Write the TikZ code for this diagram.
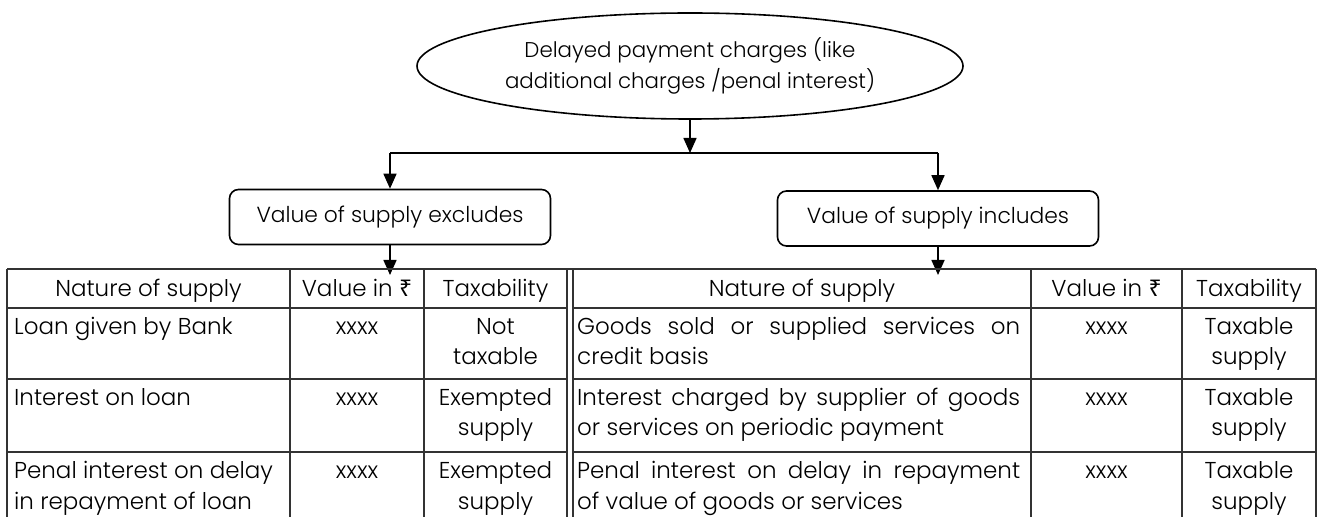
\documentclass[tikz,border=0pt]{standalone}
\usepackage{fontspec}
\setmainfont{Poppins}[UprightFont={* Light}]
\newfontfamily\rupeefont{Noto Sans}
\usetikzlibrary{arrows.meta,shapes.geometric}
\newlength\mywd
\newcommand\rs{{\rupeefont ₹}}
\begin{document}
\settowidth\mywd{\fontsize{10pt}{12pt}\selectfont Nature of supply}%
\pgfmathsetmacro\tsz{10*186.5/\mywd}%
\settowidth\mywd{\fontsize{10pt}{12pt}\selectfont additional charges /penal interest)}%
\pgfmathsetmacro\esz{10*370/\mywd}%
\settowidth\mywd{\fontsize{10pt}{12pt}\selectfont Value of supply excludes}%
\pgfmathsetmacro\bsz{10*267/\mywd}%
\def\tfont{\fontsize{\tsz pt}{30pt}\selectfont}%
\def\efont{\fontsize{\esz pt}{31pt}\selectfont}%
\def\bfont{\fontsize{\bsz pt}{30pt}\selectfont}%
\begin{tikzpicture}[x=1pt,y=1pt,
  conn/.style={line width=1.6pt,-{Triangle[width=13pt,length=15pt]}},
  joinline/.style={line width=1.6pt},
  rbox/.style={draw,line width=1.6pt,rounded corners=9pt,minimum width=321pt,minimum height=55pt,inner sep=0pt,font=\bfont},
  tbl/.style={line width=1.8pt,draw=black!80},
  txt/.style={inner sep=0pt,anchor=base,font=\tfont},
  txtl/.style={inner sep=0pt,anchor=base west,font=\tfont}]
\useasboundingbox (0,0) rectangle (1318,517);
% ellipse
\node[draw,ellipse,line width=1.6pt,minimum width=546pt,minimum height=106pt,inner sep=0pt,align=center,font=\efont] (ell) at (690,451) {Delayed payment charges (like\\additional charges /penal interest)};
\coordinate (split) at (690,364);
\coordinate (jl) at (390,364);
\coordinate (jr) at (938,364);
\draw[conn] (ell.south) -- (split);
\draw[joinline] (jl) -- (jr);
% boxes
\node[rbox] (lbox) at (390,300) {Value of supply excludes};
\node[rbox] (rbox) at (938,298.5) {Value of supply includes};
\draw[conn] (jl) -- (lbox.north);
\draw[conn] (jr) -- (rbox.north);
\coordinate (tl) at (390,242);
\coordinate (tr) at (938,242);
\draw[conn] (lbox.south) -- (tl);
\draw[conn] (rbox.south) -- (tr);
% table lines
\draw[tbl] (7,248) -- (1316,248);
\draw[tbl] (7,209) -- (567,209) (573,209) -- (1316,209);
\draw[tbl] (7,138) -- (567,138) (573,138) -- (1316,138);
\draw[tbl] (7,65) -- (567,65) (573,65) -- (1316,65);
\foreach \xx in {7,290,424,567,573,1031,1182,1316}{\draw[tbl] (\xx,248) -- (\xx,0);}
% header
\node[txt] (h1) at (148.5,220) {Nature of supply};
\node[txt] (h2) at (357,220) {Value in \rs};
\node[txt] (h3) at (495.5,220) {Taxability};
\node[txt] (h4) at (802,220) {Nature of supply};
\node[txt] (h5) at (1106.5,220) {Value in \rs};
\node[txt] (h6) at (1249,220) {Taxability};
% row 1
\node[txtl] (a1) at (14,182) {Loan given by Bank};
\node[txt] (a2) at (357,182) {xxxx};
\node[txt] (a3) at (495.5,182) {Not};
\node[txt] (a3b) at (495.5,152) {taxable};
\node[txtl] (a4) at (577,182) {\makebox[443pt][s]{Goods sold or supplied services on}};
\node[txtl] (a4b) at (577,152) {credit basis};
\node[txt] (a5) at (1106.5,182) {xxxx};
\node[txt] (a6) at (1249,182) {Taxable};
\node[txt] (a6b) at (1249,152) {supply};
% row 2
\node[txtl] (b1) at (14,111) {Interest on loan};
\node[txt] (b2) at (357,111) {xxxx};
\node[txt] (b3) at (495.5,111) {Exempted};
\node[txt] (b3b) at (495.5,81) {supply};
\node[txtl] (b4) at (577,111) {\makebox[443pt][s]{Interest charged by supplier of goods}};
\node[txtl] (b4b) at (577,81) {or services on periodic payment};
\node[txt] (b5) at (1106.5,111) {xxxx};
\node[txt] (b6) at (1249,111) {Taxable};
\node[txt] (b6b) at (1249,81) {supply};
% row 3
\node[txtl] (c1) at (14,38) {Penal interest on delay};
\node[txtl] (c1b) at (14,8) {in repayment of loan};
\node[txt] (c2) at (357,38) {xxxx};
\node[txt] (c3) at (495.5,38) {Exempted};
\node[txt] (c3b) at (495.5,8) {supply};
\node[txtl] (c4) at (577,38) {\makebox[443pt][s]{Penal interest on delay in repayment}};
\node[txtl] (c4b) at (577,8) {of value of goods or services};
\node[txt] (c5) at (1106.5,38) {xxxx};
\node[txt] (c6) at (1249,38) {Taxable};
\node[txt] (c6b) at (1249,8) {supply};
\end{tikzpicture}
\end{document}
